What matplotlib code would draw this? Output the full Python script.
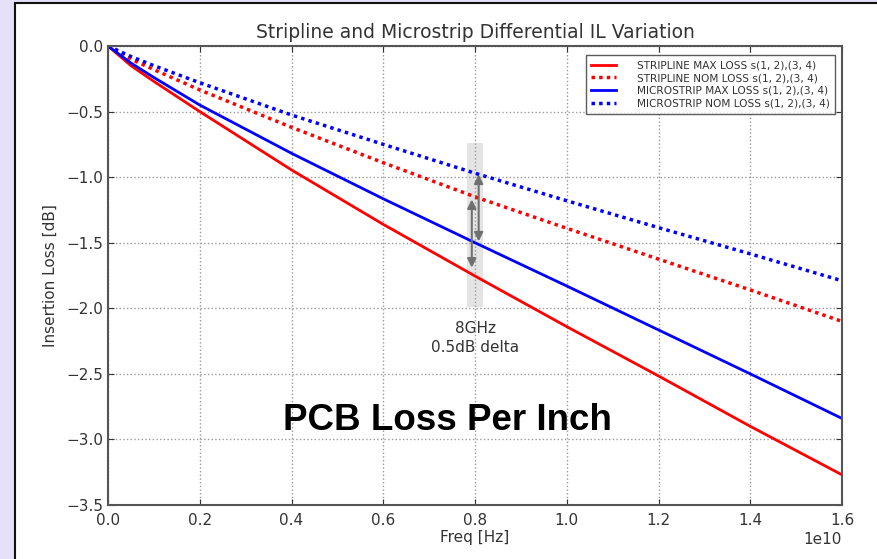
import matplotlib
matplotlib.use("Agg")
import matplotlib.pyplot as plt
from matplotlib.patches import Rectangle

freq_ghz = [0.0, 0.5, 1.0, 2.0, 4.0, 6.0, 8.0, 10.0, 12.0, 14.0, 16.0]
stripline_max = [0.0, -0.15, -0.27, -0.50, -0.945, -1.36, -1.754, -2.14, -2.516, -2.90, -3.27]
stripline_nom = [0.0, -0.10, -0.18, -0.335, -0.62, -0.89, -1.15, -1.39, -1.625, -1.86, -2.10]
microstrip_max = [0.0, -0.13, -0.24, -0.45, -0.818, -1.165, -1.50, -1.83, -2.165, -2.50, -2.84]
microstrip_nom = [0.0, -0.08, -0.15, -0.28, -0.526, -0.75, -0.97, -1.18, -1.385, -1.585, -1.79]

labels = ["STRIPLINE MAX LOSS s(1, 2),(3, 4)",
          "STRIPLINE NOM LOSS s(1, 2),(3, 4)",
          "MICROSTRIP MAX LOSS s(1, 2),(3, 4)",
          "MICROSTRIP NOM LOSS s(1, 2),(3, 4)"]

xticks = [0.0, 0.2, 0.4, 0.6, 0.8, 1.0, 1.2, 1.4, 1.6]
yticks = [0.0, -0.5, -1.0, -1.5, -2.0, -2.5, -3.0, -3.5]

# annotation values
band_x = (7.82e9, 8.17e9)
band_y = (-0.74, -1.99)
arrow1 = (7.93e9, -1.17, -1.69)
arrow2 = (8.08e9, -0.98, -1.49)

hz = [f * 1e9 for f in freq_ghz]

fig = plt.figure(figsize=(8.78, 5.59), dpi=100)
fig.patch.set_facecolor("#E6E0F8")
panel = Rectangle((15 / 878, -0.01), 1.0, (559 - 3) / 559 + 0.01, transform=fig.transFigure,
                  facecolor="white", edgecolor="#111111", linewidth=1.5, zorder=-10)
fig.patches.append(panel)

ax = fig.add_axes([108 / 878, 54 / 559, 734 / 878, 459 / 559])
ax.set_zorder(5)
ax.plot(hz, stripline_max, color="red", lw=2, label=labels[0])
ax.plot(hz, stripline_nom, color="red", lw=2.5, ls=(0, (1, 1.2)), label=labels[1])
ax.plot(hz, microstrip_max, color="blue", lw=2, label=labels[2])
ax.plot(hz, microstrip_nom, color="blue", lw=2.5, ls=(0, (1, 1.2)), label=labels[3])

ax.add_patch(Rectangle((band_x[0], band_y[1]), band_x[1] - band_x[0], band_y[0] - band_y[1],
                       facecolor="#d9d9d9", alpha=0.7, edgecolor="none", zorder=0.5))
for xa, y1, y2 in (arrow1, arrow2):
    ax.annotate("", xy=(xa, y2), xytext=(xa, y1),
                arrowprops=dict(arrowstyle="<|-|>", color="#707070", lw=1.5,
                                mutation_scale=13, shrinkA=0, shrinkB=0))

ax.text(8.0e9, -2.10, "8GHz\n0.5dB delta", ha="center", va="top", fontsize=11,
        color="#333333", linespacing=1.3)
ax.text(0.462, 0.185, "PCB Loss Per Inch", transform=ax.transAxes, ha="center", va="center",
        fontsize=26.5, fontweight="bold", family="Liberation Sans", color="black")

ax.set_xlim(0, 1.6e10)
ax.set_ylim(-3.5, 0)
ax.set_xticks([t * 1e10 for t in xticks])
ax.set_yticks(yticks)
ax.grid(True, ls=":", color="#999999", lw=1)
ax.tick_params(direction="in", top=True, right=True, labelsize=11, colors="#333333",
               length=4)
ax.tick_params(axis="x", pad=6)
for s in ax.spines.values():
    s.set_color("#555555")
    s.set_linewidth(1.5)
ax.xaxis.get_offset_text().set_fontsize(11)
ax.xaxis.get_offset_text().set_color("#333333")
ax.set_title("Stripline and Microstrip Differential IL Variation", fontsize=13.5, color="#333333", pad=6)
ax.set_xlabel("Freq [Hz]", fontsize=11, color="#333333", labelpad=1)
ax.set_ylabel("Insertion Loss [dB]", fontsize=11, color="#333333", labelpad=6)

leg = ax.legend(loc="upper right", fontsize=7.6, handlelength=2.4, frameon=True, fancybox=False,
                borderpad=0.5, labelspacing=0.25, bbox_to_anchor=(0.990, 0.980),
                handletextpad=1.9, borderaxespad=0)
leg.get_frame().set_edgecolor("#333333")
leg.get_frame().set_linewidth(1)
for t in leg.get_texts():
    t.set_color("#333333")

fig.savefig("out.png", dpi=100, facecolor=fig.get_facecolor())
